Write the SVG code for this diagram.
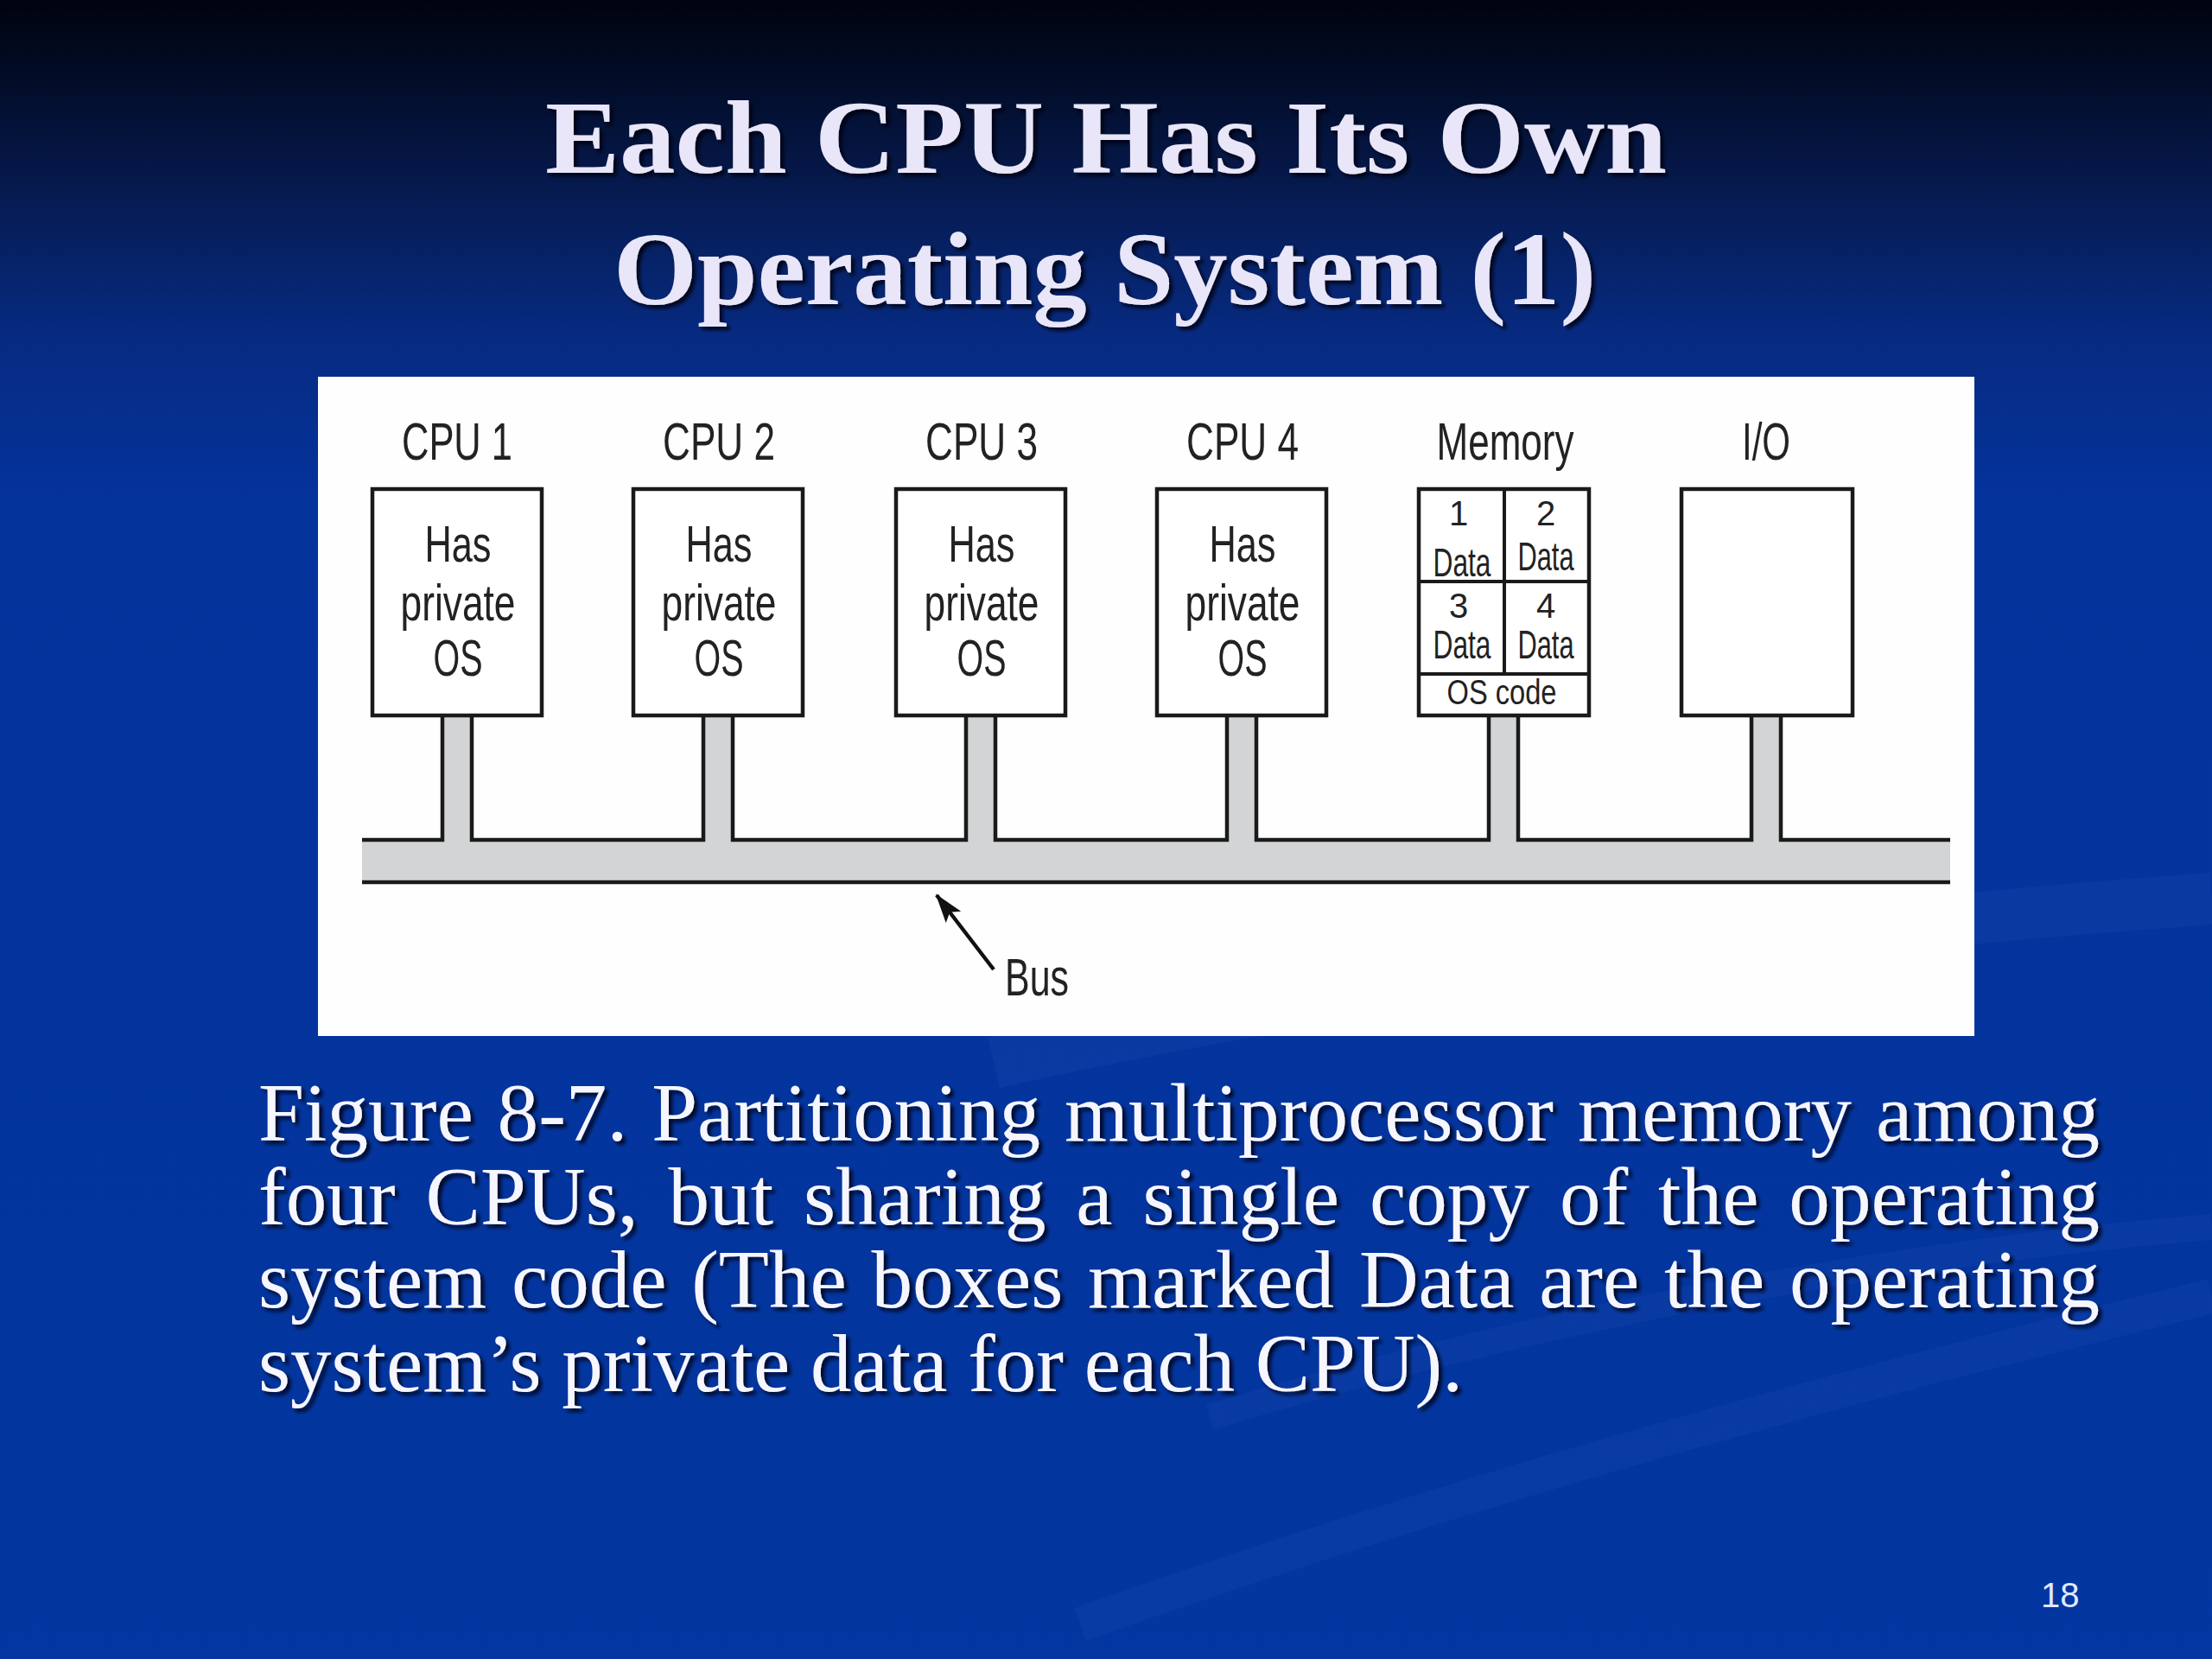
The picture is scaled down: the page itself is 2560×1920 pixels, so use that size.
<svg xmlns="http://www.w3.org/2000/svg" width="2560" height="1920" viewBox="0 0 2560 1920">
  <defs>
    <linearGradient id="bg" x1="0" y1="0" x2="0" y2="1">
      <stop offset="0" stop-color="#00030f"/>
      <stop offset="0.04" stop-color="#020b24"/>
      <stop offset="0.12" stop-color="#061b52"/>
      <stop offset="0.2" stop-color="#072a80"/>
      <stop offset="0.3" stop-color="#04339c"/>
      <stop offset="1" stop-color="#0336a0"/>
    </linearGradient>
    <filter id="shadow" x="-5%" y="-20%" width="110%" height="140%">
      <feDropShadow dx="4" dy="4" stdDeviation="2" flood-color="#000010" flood-opacity="0.85"/>
    </filter>
    <marker id="arrowhead" markerUnits="userSpaceOnUse" markerWidth="34" markerHeight="24" viewBox="0 0 34 24" refX="32" refY="12" orient="auto">
      <path d="M0,1 L34,12 L0,23 L7,12 Z" fill="#111"/>
    </marker>
    <style>
      .title { font-family: "Liberation Serif", "Times New Roman", serif; font-weight: bold; font-size: 120px; fill: #e8e6f8; }
      .caption { font-family: "Liberation Serif", "Times New Roman", serif; font-size: 95px; fill: #f6f6ff; }
      .lbl { font-family: "Liberation Sans", Arial, sans-serif; font-size: 62px; fill: #222; text-anchor: middle; }
      .inner { font-family: "Liberation Sans", Arial, sans-serif; font-size: 60px; fill: #222; text-anchor: middle; }
      .cell { font-family: "Liberation Sans", Arial, sans-serif; font-size: 46px; fill: #222; text-anchor: middle; }
      .digit { font-family: "Liberation Sans", Arial, sans-serif; font-size: 40px; fill: #222; text-anchor: middle; }
      .box { fill: #ffffff; stroke: #1a1a1a; stroke-width: 4.5; }
      .div { fill: none; stroke: #1a1a1a; stroke-width: 4; }
      .busfill { fill: #d2d4d6; }
      .busline { fill: none; stroke: #1a1a1a; stroke-width: 4.5; }
      .swoosh { fill: none; stroke: #3a66c8; stroke-opacity: 0.12; }
    </style>
  </defs>

  <!-- background -->
  <rect x="0" y="0" width="2560" height="1920" fill="url(#bg)"/>
  <g id="background-swooshes">
    <path class="swoosh" stroke-width="60" d="M1150,1230 C1500,1150 2000,1080 2560,1040"/>
    <path class="swoosh" stroke-width="40" d="M1250,1880 C1700,1720 2150,1600 2560,1500"/>
    <path class="swoosh" stroke-width="30" d="M1400,1640 C1800,1520 2200,1450 2560,1420"/>
  </g>

  <!-- title -->
  <g id="title" filter="url(#shadow)">
    <text class="title" x="631" y="200" textLength="1298" lengthAdjust="spacingAndGlyphs">Each CPU Has Its Own</text>
    <text class="title" x="710" y="352" textLength="1137" lengthAdjust="spacingAndGlyphs">Operating System (1)</text>
  </g>

  <!-- figure panel -->
  <rect id="panel" x="368" y="436" width="1917" height="763" fill="#fefefe"/>

  <!-- connectors: bus and stems -->
  <g id="connectors">
    <rect class="busfill" x="419" y="972" width="1838" height="49"/>
    <rect class="busfill" x="513" y="828" width="33" height="146"/>
    <rect class="busfill" x="815" y="828" width="33" height="146"/>
    <rect class="busfill" x="1119" y="828" width="33" height="146"/>
    <rect class="busfill" x="1421" y="828" width="33" height="146"/>
    <rect class="busfill" x="1724" y="828" width="33" height="146"/>
    <rect class="busfill" x="2028" y="828" width="33" height="146"/>
    <path class="busline" d="M419,972 H512 V828 M546,828 V972 H814 V828 M848,828 V972 H1118 V828 M1152,828 V972 H1420 V828 M1454,828 V972 H1723 V828 M1757,828 V972 H2027 V828 M2061,828 V972 H2257"/>
    <path class="busline" d="M419,1021 H2257"/>
    <line x1="1150" y1="1122" x2="1084" y2="1036" stroke="#111" stroke-width="4.5" marker-end="url(#arrowhead)"/>
  </g>

  <!-- CPU 1 -->
  <g id="cpu1">
    <text class="lbl" x="529" y="532" textLength="128" lengthAdjust="spacingAndGlyphs">CPU 1</text>
    <rect class="box" x="431" y="566" width="196" height="262"/>
    <text class="inner" x="530" y="650" textLength="77" lengthAdjust="spacingAndGlyphs">Has</text>
    <text class="inner" x="530" y="718" textLength="133" lengthAdjust="spacingAndGlyphs">private</text>
    <text class="inner" x="530" y="782" textLength="57" lengthAdjust="spacingAndGlyphs">OS</text>
  </g>

  <!-- CPU 2 -->
  <g id="cpu2">
    <text class="lbl" x="832" y="532" textLength="130" lengthAdjust="spacingAndGlyphs">CPU 2</text>
    <rect class="box" x="733" y="566" width="196" height="262"/>
    <text class="inner" x="832" y="650" textLength="77" lengthAdjust="spacingAndGlyphs">Has</text>
    <text class="inner" x="832" y="718" textLength="133" lengthAdjust="spacingAndGlyphs">private</text>
    <text class="inner" x="832" y="782" textLength="57" lengthAdjust="spacingAndGlyphs">OS</text>
  </g>

  <!-- CPU 3 -->
  <g id="cpu3">
    <text class="lbl" x="1136" y="532" textLength="130" lengthAdjust="spacingAndGlyphs">CPU 3</text>
    <rect class="box" x="1037" y="566" width="196" height="262"/>
    <text class="inner" x="1136" y="650" textLength="77" lengthAdjust="spacingAndGlyphs">Has</text>
    <text class="inner" x="1136" y="718" textLength="133" lengthAdjust="spacingAndGlyphs">private</text>
    <text class="inner" x="1136" y="782" textLength="57" lengthAdjust="spacingAndGlyphs">OS</text>
  </g>

  <!-- CPU 4 -->
  <g id="cpu4">
    <text class="lbl" x="1438" y="532" textLength="130" lengthAdjust="spacingAndGlyphs">CPU 4</text>
    <rect class="box" x="1339" y="566" width="196" height="262"/>
    <text class="inner" x="1438" y="650" textLength="77" lengthAdjust="spacingAndGlyphs">Has</text>
    <text class="inner" x="1438" y="718" textLength="133" lengthAdjust="spacingAndGlyphs">private</text>
    <text class="inner" x="1438" y="782" textLength="57" lengthAdjust="spacingAndGlyphs">OS</text>
  </g>

  <!-- Memory -->
  <g id="memory">
    <text class="lbl" x="1742" y="532" textLength="159" lengthAdjust="spacingAndGlyphs">Memory</text>
    <rect class="box" x="1642" y="566" width="197" height="262"/>
    <path class="div" d="M1741,566 V780 M1642,673 H1839 M1642,780 H1839"/>
    <text class="digit" x="1688" y="608">1</text>
    <text class="cell" x="1692" y="667" textLength="67" lengthAdjust="spacingAndGlyphs">Data</text>
    <text class="digit" x="1789" y="608">2</text>
    <text class="cell" x="1789" y="660" textLength="65" lengthAdjust="spacingAndGlyphs">Data</text>
    <text class="digit" x="1688" y="715">3</text>
    <text class="cell" x="1692" y="762" textLength="67" lengthAdjust="spacingAndGlyphs">Data</text>
    <text class="digit" x="1789" y="715">4</text>
    <text class="cell" x="1789" y="762" textLength="65" lengthAdjust="spacingAndGlyphs">Data</text>
    <text class="digit" x="1738" y="815" textLength="127" lengthAdjust="spacingAndGlyphs">OS code</text>
  </g>

  <!-- I/O -->
  <g id="io">
    <text class="lbl" x="2044" y="532" textLength="56" lengthAdjust="spacingAndGlyphs">I/O</text>
    <rect class="box" x="1946" y="566" width="198" height="262"/>
  </g>

  <!-- Bus label -->
  <g id="bus-label">
    <text class="lbl" x="1200" y="1152" textLength="74" lengthAdjust="spacingAndGlyphs">Bus</text>
  </g>

  <!-- caption -->
  <g id="caption" filter="url(#shadow)">
    <text class="caption" x="299" y="1320" word-spacing="4" textLength="2131" lengthAdjust="spacing">Figure 8-7. Partitioning multiprocessor memory among</text>
    <text class="caption" x="299" y="1417" word-spacing="11" textLength="2131" lengthAdjust="spacing">four CPUs, but sharing a single copy of the operating</text>
    <text class="caption" x="299" y="1513" word-spacing="5" textLength="2131" lengthAdjust="spacing">system code (The boxes marked Data are the operating</text>
    <text class="caption" x="299" y="1610" textLength="1394" lengthAdjust="spacing">system’s private data for each CPU).</text>
  </g>

  <!-- slide number -->
  <text x="2362" y="1860" font-family="Liberation Sans, Arial, sans-serif" font-size="40" fill="#e2e8ff">18</text>
</svg>
